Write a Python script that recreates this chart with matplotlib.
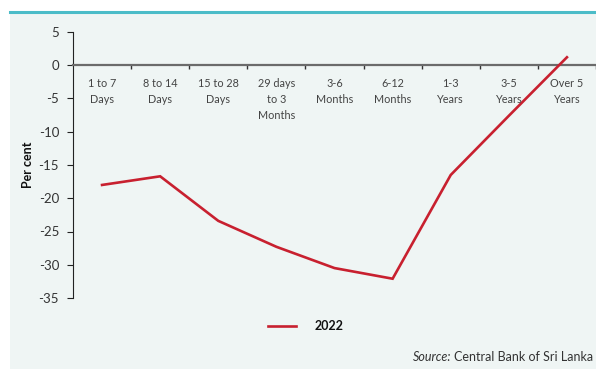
import numpy as np
import matplotlib.pyplot as plt
from matplotlib.patches import Rectangle
from matplotlib.lines import Line2D

plt.rcParams['font.family'] = ['Lato', 'DejaVu Sans']

# Maturity buckets and yield change (per cent)
categories = ["1 to 7\nDays", "8 to 14\nDays", "15 to 28\nDays", "29 days\nto 3\nMonths",
              "3-6\nMonths", "6-12\nMonths", "1-3\nYears", "3-5\nYears", "Over 5\nYears"]
values_2022 = [-18.0, -16.7, -23.4, -27.3, -30.5, -32.1, -16.5, -7.6, 1.2]
y_ticks = [5, 0, -5, -10, -15, -20, -25, -30, -35]

W, H = 596, 369
fig = plt.figure(figsize=(W / 100, H / 100), dpi=100, facecolor="white")

# panel background and top rule
fig.patches.append(Rectangle((10 / W, 0), 1 - 10 / W, 1 - 12 / H, transform=fig.transFigure,
                             facecolor="#eff5f4", edgecolor="none", zorder=-10))
fig.lines.append(Line2D([10 / W, 1], [1 - 12 / H, 1 - 12 / H], transform=fig.transFigure,
                        color="#4bbcc8", lw=2.2, zorder=-5))

ax = fig.add_axes([73 / W, 1 - 298 / H, 1 - 73 / W, (298 - 32) / H])
ax.set_facecolor("none")
ax.set_zorder(5)

x = np.arange(len(categories)) + 0.5
ax.plot(x, values_2022, color="#c8202f", lw=1.9, solid_joinstyle="miter", zorder=3, clip_on=False)

ax.set_xlim(0, len(categories))
ax.set_ylim(-35, 5)

for s in ["top", "right"]:
    ax.spines[s].set_visible(False)
ax.spines["left"].set_color("#222222")
ax.spines["left"].set_linewidth(0.8)
ax.spines["bottom"].set_position(("data", 0))
ax.spines["bottom"].set_color("#6b6b6b")
ax.spines["bottom"].set_linewidth(1.6)

ax.set_yticks(y_ticks)
ax.set_yticklabels([str(v) for v in y_ticks], fontsize=9.5, color="#333333")
ax.tick_params(axis="y", direction="out", length=4, width=0.8, color="#222222", pad=6)

ax.set_xticks(np.arange(1, len(categories) + 1))
ax.set_xticklabels([])
ax.tick_params(axis="x", direction="out", length=3, width=1.0, color="#333333")

for xi, lab in zip(x, categories):
    ax.text(xi, -1.9, lab, ha="center", va="top", fontsize=7.8, color="#444444",
            linespacing=1.55)

ax.set_ylabel("Per cent", fontsize=9, fontweight="bold", color="#111111", labelpad=3)

# legend
fig.lines.append(Line2D([268 / W, 296 / W], [1 - 326 / H, 1 - 326 / H], transform=fig.transFigure,
                        color="#c8202f", lw=1.9))
fig.text(315 / W, 1 - 326 / H, "2022", fontsize=9, fontweight="bold", va="center", color="#111111")

fig.text(413 / W, 1 - 357 / H, "Source:", fontsize=9, style="italic", va="center", color="#333333")
fig.text(454 / W, 1 - 357 / H, "Central Bank of Sri Lanka", fontsize=9, va="center", color="#333333")

fig.savefig("out.png", dpi=100, facecolor=fig.get_facecolor())
